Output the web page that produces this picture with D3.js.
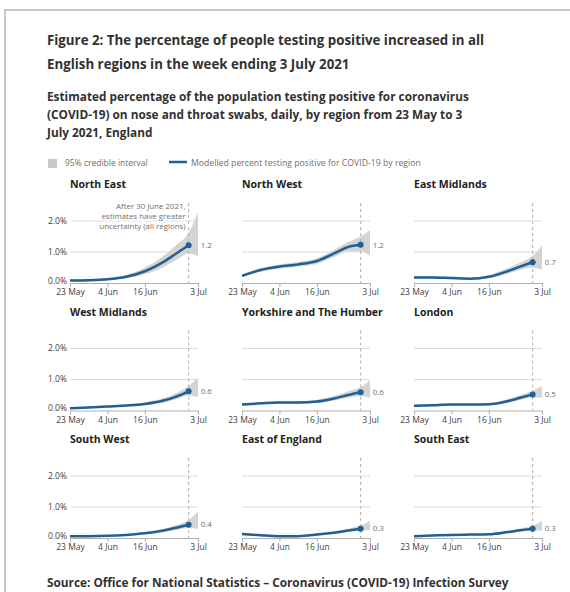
<!DOCTYPE html>
<html>
<head>
<meta charset="utf-8">
<script src="https://cdn.jsdelivr.net/npm/d3@7"></script>
<style>
  body { margin: 0; background: #fff; }
  svg { display: block; font-family: "Open Sans", sans-serif; }
</style>
</head>
<body>
<div id="chart"></div>
<script>
var parseTime = d3.timeParse("%Y-%m-%d");

// data (percent)
var regions = ["North East", "North West", "East Midlands",
  "West Midlands", "Yorkshire and The Humber", "London",
  "South West", "East of England", "South East"];

var dates = ["2021-05-23", "2021-05-29", "2021-06-04", "2021-06-10",
  "2021-06-16", "2021-06-22", "2021-06-26", "2021-06-30"];
var bandDates = dates.concat(["2021-07-03"]);

var modelled = [
  [0.08, 0.09, 0.12, 0.20, 0.38, 0.68, 0.95, 1.22],
  [0.23, 0.42, 0.53, 0.60, 0.71, 0.98, 1.16, 1.23],
  [0.18, 0.18, 0.16, 0.14, 0.20, 0.38, 0.53, 0.67],
  [0.07, 0.10, 0.13, 0.16, 0.21, 0.32, 0.45, 0.62],
  [0.19, 0.23, 0.26, 0.26, 0.29, 0.40, 0.50, 0.59],
  [0.15, 0.17, 0.19, 0.19, 0.20, 0.30, 0.41, 0.52],
  [0.06, 0.06, 0.07, 0.10, 0.15, 0.24, 0.33, 0.43],
  [0.13, 0.09, 0.06, 0.06, 0.11, 0.18, 0.24, 0.30],
  [0.06, 0.08, 0.10, 0.11, 0.12, 0.19, 0.25, 0.30]
];
var lower = [
  [0.05, 0.06, 0.09, 0.15, 0.28, 0.52, 0.74, 0.95, 0.86],
  [0.19, 0.36, 0.46, 0.53, 0.62, 0.86, 1.02, 1.02, 0.87],
  [0.14, 0.14, 0.12, 0.11, 0.15, 0.30, 0.42, 0.50, 0.42],
  [0.05, 0.08, 0.10, 0.13, 0.17, 0.26, 0.36, 0.48, 0.43],
  [0.16, 0.19, 0.22, 0.22, 0.24, 0.33, 0.41, 0.47, 0.41],
  [0.12, 0.14, 0.16, 0.16, 0.17, 0.25, 0.34, 0.42, 0.41],
  [0.04, 0.04, 0.05, 0.08, 0.12, 0.19, 0.26, 0.32, 0.30],
  [0.10, 0.07, 0.04, 0.04, 0.08, 0.14, 0.19, 0.24, 0.26],
  [0.04, 0.06, 0.08, 0.09, 0.10, 0.15, 0.20, 0.24, 0.24]
];
var upper = [
  [0.12, 0.13, 0.16, 0.26, 0.50, 0.88, 1.22, 1.62, 2.30],
  [0.28, 0.48, 0.60, 0.68, 0.80, 1.10, 1.32, 1.50, 1.70],
  [0.22, 0.22, 0.20, 0.18, 0.26, 0.48, 0.66, 0.88, 1.20],
  [0.09, 0.12, 0.16, 0.19, 0.26, 0.40, 0.56, 0.80, 1.06],
  [0.23, 0.27, 0.30, 0.30, 0.35, 0.48, 0.62, 0.76, 0.97],
  [0.18, 0.20, 0.22, 0.22, 0.24, 0.36, 0.50, 0.64, 0.78],
  [0.08, 0.08, 0.09, 0.12, 0.19, 0.30, 0.42, 0.58, 0.85],
  [0.16, 0.11, 0.08, 0.08, 0.14, 0.22, 0.30, 0.40, 0.56],
  [0.08, 0.10, 0.12, 0.13, 0.15, 0.23, 0.31, 0.40, 0.56]
];

var xTicks = ["2021-05-23", "2021-06-04", "2021-06-16", "2021-07-03"];
var yTicks = [0, 1, 2];
var cutoffDate = "2021-06-30";
var annotation = ["After 30 June 2021,", "estimates have greater", "uncertainty (all regions)"];

var width = 570, height = 592;
var pw = 128, ph = 80;
var colX = [70, 242, 414];
var rowY = [203, 330.5, 458];

var svg = d3.select("#chart").append("svg")
  .attr("width", width)
  .attr("height", height);

// frame
svg.append("path")
  .attr("d", "M5,600 L5,10 L580,10")
  .attr("fill", "none")
  .attr("stroke", "#c8c8c8")
  .attr("stroke-width", 2);

var title = ["Figure 2: The percentage of people testing positive increased in all",
  "English regions in the week ending 3 July 2021"];
svg.selectAll("title")
  .data(title)
  .enter()
  .append("text")
  .attr("x", 47)
  .attr("y", (d, i) => 45 + i * 24)
  .attr("font-size", 13.3).attr("font-weight", 700).attr("fill", "#323132")
  .text(d => d);

var sub = ["Estimated percentage of the population testing positive for coronavirus",
  "(COVID-19) on nose and throat swabs, daily, by region from 23 May to 3",
  "July 2021, England"];
svg.selectAll("subtitle")
  .data(sub)
  .enter()
  .append("text")
  .attr("x", 47)
  .attr("y", (d, i) => 101 + i * 18)
  .attr("font-size", 11.8).attr("font-weight", 700).attr("fill", "#323132")
  .text(d => d);

// legend
svg.append("rect")
  .attr("x", 48).attr("y", 159).attr("width", 9).attr("height", 9)
  .attr("fill", "#c8c8c8");
svg.append("text")
  .attr("x", 65).attr("y", 163).attr("dy", "0.35em")
  .attr("font-size", 8.5).attr("fill", "#707070")
  .text("95% credible interval");
svg.append("line")
  .attr("x1", 169).attr("x2", 187).attr("y1", 162).attr("y2", 162)
  .attr("stroke", "#206095").attr("stroke-width", 2.5);
svg.append("text")
  .attr("x", 191).attr("y", 163).attr("dy", "0.35em")
  .attr("font-size", 8.7).attr("fill", "#707070")
  .text("Modelled percent testing positive for COVID-19 by region");

var x = d3.scaleTime()
  .domain([parseTime("2021-05-23"), parseTime("2021-07-03")])
  .range([0, pw]);
var y = d3.scaleLinear()
  .domain([0, 2.58])
  .range([ph, 0]);

var fmtDate = d3.timeFormat("%-d %b");

regions.forEach(function (name, i) {
  var col = i % 3, row = Math.floor(i / 3);
  var g = svg.append("g")
    .attr("transform", "translate(" + colX[col] + "," + rowY[row] + ")");

  var line = dates.map((d, j) => ({ date: parseTime(d), v: modelled[i][j] }));
  var band = bandDates.map((d, j) => ({ date: parseTime(d), lo: lower[i][j], hi: upper[i][j] }));

  g.append("text")
    .attr("x", 0).attr("y", -15)
    .attr("font-size", 10.5).attr("font-weight", 700).attr("fill", "#222")
    .text(name);

  // gridlines
  g.selectAll("grid")
    .data(yTicks.filter(d => d > 0))
    .enter()
    .append("line")
    .attr("x1", 0).attr("x2", pw)
    .attr("y1", d => y(d)).attr("y2", d => y(d))
    .attr("stroke", "#dcdcdc");

  if (col == 0) {
    g.selectAll("ylab")
      .data(yTicks)
      .enter()
      .append("text")
      .attr("x", -3)
      .attr("y", d => y(d))
      .attr("dy", d => d == 0 ? "0.1em" : "0.35em")
      .attr("text-anchor", "end")
      .attr("font-size", 8.5).attr("fill", "#414042")
      .text(d => d.toFixed(1) + "%");
  }

  g.append("path")
    .datum(band)
    .attr("fill", "#d4d4d4")
    .attr("d", d3.area()
      .x(d => x(d.date))
      .y0(d => y(d.lo))
      .y1(d => y(d.hi))
      .curve(d3.curveMonotoneX));

  // x axis
  var xAxis = g.append("g")
    .attr("transform", "translate(0," + ph + ")")
    .call(d3.axisBottom(x)
      .tickValues(xTicks.map(parseTime))
      .tickFormat(fmtDate)
      .tickSize(4)
      .tickPadding(2));
  xAxis.select(".domain").attr("stroke", "#b0b0b0");
  xAxis.selectAll(".tick line").attr("stroke", "#b0b0b0");
  xAxis.selectAll(".tick text")
    .attr("font-size", 8.5)
    .attr("font-family", "Open Sans, sans-serif")
    .attr("fill", "#414042");

  var cx = x(parseTime(cutoffDate));
  g.append("line")
    .attr("x1", cx).attr("x2", cx)
    .attr("y1", 0).attr("y2", ph)
    .attr("stroke", "#b0b0b0")
    .attr("stroke-dasharray", "3,3");

  g.append("path")
    .datum(line)
    .attr("fill", "none")
    .attr("stroke", "#206095")
    .attr("stroke-width", 2.5)
    .attr("d", d3.line()
      .x(d => x(d.date))
      .y(d => y(d.v))
      .curve(d3.curveMonotoneX));

  var last = line[line.length - 1];
  g.append("circle")
    .attr("cx", x(last.date)).attr("cy", y(last.v))
    .attr("r", 3)
    .attr("fill", "#206095");

  g.append("text")
    .attr("x", x(last.date) + 12)
    .attr("y", y(last.v))
    .attr("dy", "0.35em")
    .attr("font-size", 8).attr("fill", "#707070")
    .text(d3.format(".1f")(last.v));

  if (i == 0) {
    g.selectAll("note")
      .data(annotation)
      .enter()
      .append("text")
      .attr("x", cx - 3)
      .attr("y", (d, j) => 3 + j * 10)
      .attr("dy", "0.35em")
      .attr("text-anchor", "end")
      .attr("font-size", 7.9).attr("fill", "#707070")
      .attr("stroke", "#fff").attr("stroke-width", 3)
      .attr("paint-order", "stroke")
      .text(d => d);
  }
});

svg.append("text")
  .attr("x", 47).attr("y", 587)
  .attr("font-size", 11.8).attr("font-weight", 700).attr("fill", "#323132")
  .text("Source: Office for National Statistics \u2013 Coronavirus (COVID-19) Infection Survey");
</script>
</body>
</html>
